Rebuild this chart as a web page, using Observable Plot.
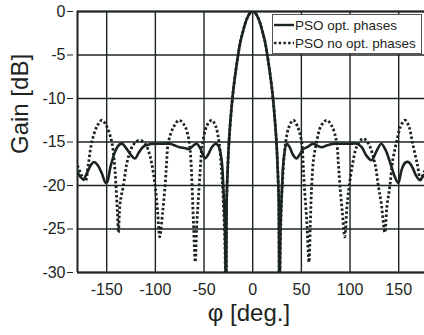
<!DOCTYPE html>
<html><head><meta charset="utf-8">
<script src="https://cdn.jsdelivr.net/npm/d3@7"></script>
<script src="https://cdn.jsdelivr.net/npm/@observablehq/plot@0.6"></script>
<style>
html,body{margin:0;padding:0;background:#fff;overflow:hidden}
svg{display:block}
</style></head><body><div id="chart"></div>
<script>
const xTicks = [-150, -100, -50, 0, 50, 100, 150];
const yTicks = [0, -5, -10, -15, -20, -25, -30];
const seriesNames = ["PSO opt. phases", "PSO no opt. phases"];

// main lobe, shared by both patterns
const mainPhi  = [-27.4, -26.8, -26, -25, -24, -22, -20, -17.5, -15, -12.5, -10, -7.5, -5, -2.5, 0,
                  2.5, 5, 7.5, 10, 12.5, 15, 17.5, 20, 22, 24, 25, 26, 26.8, 27.4];
const mainGain = [-35, -22, -19, -16.3, -14.3, -11.4, -9.1, -6.9, -5.0, -3.4, -2.3, -1.3, -0.6, -0.15, 0,
                  -0.15, -0.6, -1.3, -2.3, -3.4, -5.0, -6.9, -9.1, -11.4, -14.3, -16.3, -19, -22, -35];

// side lobes, PSO opt. phases
const optPhi  = [-180, -177, -174, -170, -166, -163, -159, -155, -151, -149.5, -146, -141, -137, -134, -130, -125, -121, -117, -112, -107, -100, -92, -85, -80, -75, -70, -65, -61, -57.5, -54, -51, -49, -46, -42, -38, -35, -32, -30, -28.5,
                 28.5, 30, 32, 35, 38, 41.5, 45, 48.5, 52, 56, 62, 66, 71, 76, 84, 92, 100, 107, 112, 117, 122, 127, 132, 136, 141, 146, 149.5, 153, 156.5, 160, 164, 168, 171.8, 174, 176, 180];
const optGain = [-18.5, -19.0, -19.3, -18.5, -17.6, -17.3, -17.7, -18.6, -19.7, -19.6, -17.8, -16, -15.3, -15.2, -15.7, -16.5, -16.9, -16.2, -15.5, -15.3, -15.2, -15.2, -15.2, -15.4, -15.6, -15.7, -15.8, -15.4, -15.2, -15.7, -16.5, -16.9, -16.5, -15.6, -15.2, -15.5, -17, -20.5, -25,
                 -25, -20.5, -16.8, -15.2, -15.6, -16.5, -16.9, -16.4, -15.8, -15.6, -15.2, -15.4, -15.6, -15.4, -15.2, -15.2, -15.2, -15.2, -15.6, -16.6, -17.1, -16.1, -15.2, -15.8, -17.3, -19, -19.7, -18.2, -17.4, -17.3, -17.9, -18.9, -19.4, -19.1, -18.8, -18.5];

// side lobes, PSO no opt. phases
const noOptPhi  = [-180, -176, -172, -168.8, -165.3, -160, -155, -150, -144.8, -142, -140.5, -139, -138, -136.5, -135, -132.8, -129.4, -125, -120, -115.6, -110, -106, -103.7, -100.3, -97.8, -95.5, -92.5, -90, -88.5, -86.6, -81, -75.5, -70, -67, -64.6, -63.3, -62.3, -60.8, -59, -57.5, -55.5, -53.5, -52, -47, -42, -38, -34.6, -32, -30.2, -28.6,
                   28.4, 30.4, 33.9, 37.5, 41.7, 46, 50.3, 51.8, 53, 55.5, 57.8, 59.3, 60.6, 62.5, 65.7, 70, 76, 81.5, 86.2, 88, 89.6, 92, 94.6, 96.8, 99.2, 102.7, 107, 113.5, 119, 125.6, 129, 132, 135.8, 137.8, 141, 144, 147.8, 152, 156.4, 160.5, 164, 169, 172.5, 176, 180];
const noOptGain = [-17.7, -18.8, -19.5, -17.5, -15, -13.2, -12.5, -13.2, -15, -17.5, -20, -23, -25.4, -22.3, -21.2, -20, -17.5, -15.8, -15, -14.8, -15.3, -16.4, -17.5, -20, -22.8, -25.9, -23, -20, -17.5, -15, -13.2, -12.5, -13.1, -14, -15.5, -17.5, -20, -24.5, -28.8, -24.5, -21, -17.5, -15.5, -13.1, -12.5, -13.2, -15, -18.3, -21.8, -26.5,
                   -26.5, -20, -15, -13.2, -12.5, -13.2, -15, -17.5, -20, -24, -28.8, -24, -20, -17, -15, -13.2, -12.5, -13.2, -15, -17.5, -20, -23, -25.9, -22.5, -20, -17.5, -15.5, -14.6, -15.2, -17.5, -20, -22, -25.4, -22.5, -20, -17, -15, -13.2, -12.5, -13.2, -15, -17.5, -19.3, -18.5, -17.7];

function rows(phis, gains, name) {
  return phis.map((p, i) => ({phi: p, gain: gains[i], series: name})).sort((a, b) => a.phi - b.phi);
}
const optData = rows(mainPhi.concat(optPhi), mainGain.concat(optGain), seriesNames[0]);
const noOptData = rows(mainPhi.concat(noOptPhi), mainGain.concat(noOptGain), seriesNames[1]);

const ink = "#1c2421";
const dots = "2.5,2.2";
const fmt = d => String(d);

const plot = Plot.plot({
  width: 424, height: 335,
  marginLeft: 77, marginRight: 0, marginTop: 11, marginBottom: 63,
  style: {fontFamily: "'Liberation Sans', Arial, Helvetica, sans-serif", background: "#fff", color: ink},
  x: {domain: [-180, 176.5], label: null},
  y: {domain: [-30, 0], label: null},
  marks: [
    Plot.gridX(xTicks, {stroke: ink, strokeOpacity: 1, strokeWidth: 1.4}),
    Plot.gridY(yTicks, {stroke: ink, strokeOpacity: 1, strokeWidth: 1.4}),
    Plot.ruleX([-180], {stroke: ink, strokeWidth: 2}),
    Plot.ruleY([0, -30], {stroke: ink, strokeWidth: 2}),
    Plot.line(noOptData, {x: "phi", y: "gain", curve: "catmull-rom", clip: true, stroke: ink, strokeWidth: 2.8, strokeDasharray: dots, className: "nodots"}),
    Plot.line(optData, {x: "phi", y: "gain", curve: "catmull-rom", clip: true, stroke: ink, strokeWidth: 2.6}),
    Plot.axisY(yTicks, {tickSize: 6, tickPadding: 2, dx: -4, fontSize: 16, tickFormat: fmt, label: null, stroke: ink}),
    Plot.axisX(xTicks, {tickSize: 0, tickPadding: 11, fontSize: 16, tickFormat: fmt, label: null}),
    Plot.text(["Gain [dB]"], {frameAnchor: "left", dx: -57, dy: 12, rotate: -90, fontSize: 24, fill: ink}),
    Plot.text(["φ [deg.]"], {frameAnchor: "bottom", dx: -2, dy: 48, fontSize: 24, fill: ink})
  ]
});

const svg = d3.select(plot);
// make sure the dash pattern sits on the path itself
svg.selectAll(".nodots path").attr("stroke-dasharray", dots).attr("stroke-linecap", "butt");

// legend
const lg = svg.append("g").attr("font-family", "'Liberation Sans', Arial, sans-serif")
  .attr("font-size", 13.5).attr("fill", ink).attr("text-anchor", "start");
lg.append("rect").attr("x", 272.5).attr("y", 14.5).attr("width", 149).attr("height", 39)
  .attr("fill", "#fff").attr("stroke", "#555").attr("stroke-width", 1);
const styles = [null, dots];
seriesNames.forEach((name, i) => {
  const y = 25 + i * 18;
  lg.append("line").attr("x1", 274).attr("x2", 294).attr("y1", y).attr("y2", y)
    .attr("stroke", ink).attr("stroke-width", 2.4).attr("stroke-dasharray", styles[i]);
  lg.append("text").attr("x", 295).attr("y", y + 4.8).attr("text-anchor", "start").text(name);
});

document.getElementById("chart").appendChild(plot);
</script></body></html>
